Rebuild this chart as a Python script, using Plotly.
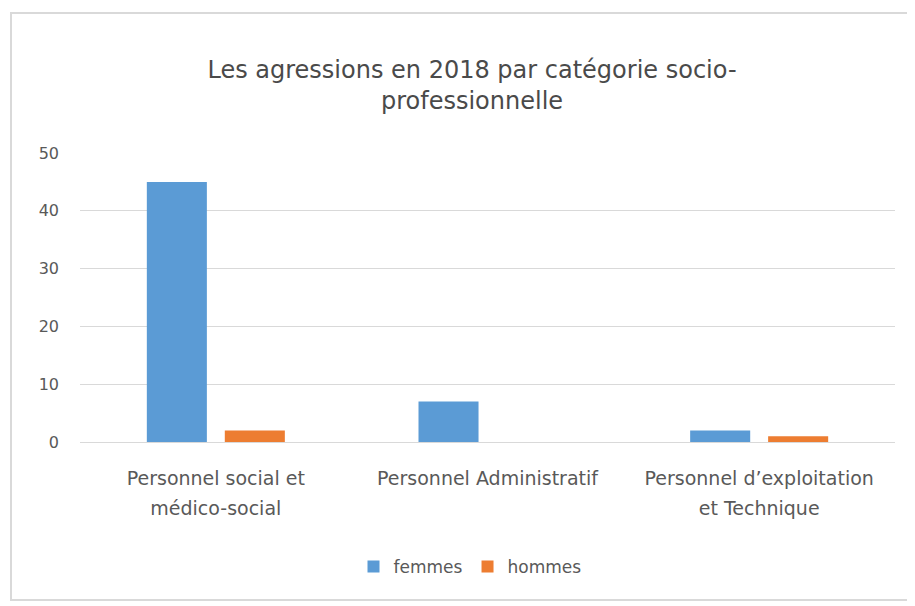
import plotly.graph_objects as go

categories = ["Personnel social et<br>médico-social", "Personnel Administratif", "Personnel d’exploitation<br>et Technique"]
femmes = [45, 7, 2]
hommes = [2, 0, 1]
y_ticks = [0, 10, 20, 30, 40, 50]

OFF = 8  # page body margin offset
W, H = 915 - OFF, 606 - OFF
# desired page-pixel plot area
PX0, PX1, PY0, PY1 = 80, 895, 153, 442
L, T = PX0 - OFF, PY0 - OFF
R = W - (PX1 - OFF)
B = H - (PY1 - OFF)
pw, ph = W - L - R, H - T - B

def px_x(px):
    return (px - PX0) / pw

def px_y(py):
    return (PY1 - py) / ph

font_family = "'DejaVu Sans', sans-serif"
text_col = "#595959"

tick_text = [f"<span style='font-size:19px'>{c}</span>" for c in categories]

fig = go.Figure()
fig.add_trace(go.Bar(name="femmes", x=categories, y=femmes, marker_color="#5B9BD5", marker_line_width=0))
fig.add_trace(go.Bar(name="hommes", x=categories, y=hommes, marker_color="#ED7D31", marker_line_width=0))

# open-right frame around the chart (left, top, bottom edges)
fx0, fx1, fy0, fy1 = px_x(11), px_x(1000), px_y(600), px_y(13)
frame_path = f"M {fx1},{fy1} L {fx0},{fy1} L {fx0},{fy0} L {fx1},{fy0}"

fig.update_layout(
    width=W, height=H,
    margin=dict(l=L, r=R, t=T, b=B),
    paper_bgcolor="white", plot_bgcolor="white",
    barmode="group", bargap=0.426, bargroupgap=0.23,
    font=dict(family=font_family, color=text_col, size=16),
    title=dict(
        text="Les agressions en 2018 par catégorie socio-<br>professionnelle",
        x=px_x(472), xref="paper", xanchor="center",
        y=1 - (84 - OFF - 6.5) / H, yref="container", yanchor="middle",
        font=dict(family=font_family, size=24, color="#4a4a4a"),
    ),
    xaxis=dict(showline=False, ticks="", showgrid=False,
               tickmode="array", tickvals=categories, ticktext=tick_text,
               tickfont=dict(size=23, color=text_col), ticklabelstandoff=19),
    yaxis=dict(range=[0, 50], tickvals=y_ticks, showgrid=True, gridcolor="#D9D9D9", gridwidth=1,
               zeroline=True, zerolinecolor="#D9D9D9", zerolinewidth=1, showline=False,
               ticks="", ticklabelstandoff=20, tickfont=dict(size=16, color=text_col)),
    legend=dict(orientation="h", x=px_x(470), xanchor="center", y=px_y(567), yanchor="middle",
                font=dict(size=17, color=text_col), itemwidth=30, traceorder="normal"),
    shapes=[dict(type="path", xref="paper", yref="paper", path=frame_path,
                 line=dict(color="#D9D9D9", width=2), layer="below")],
)

fig.write_html("out.html")
